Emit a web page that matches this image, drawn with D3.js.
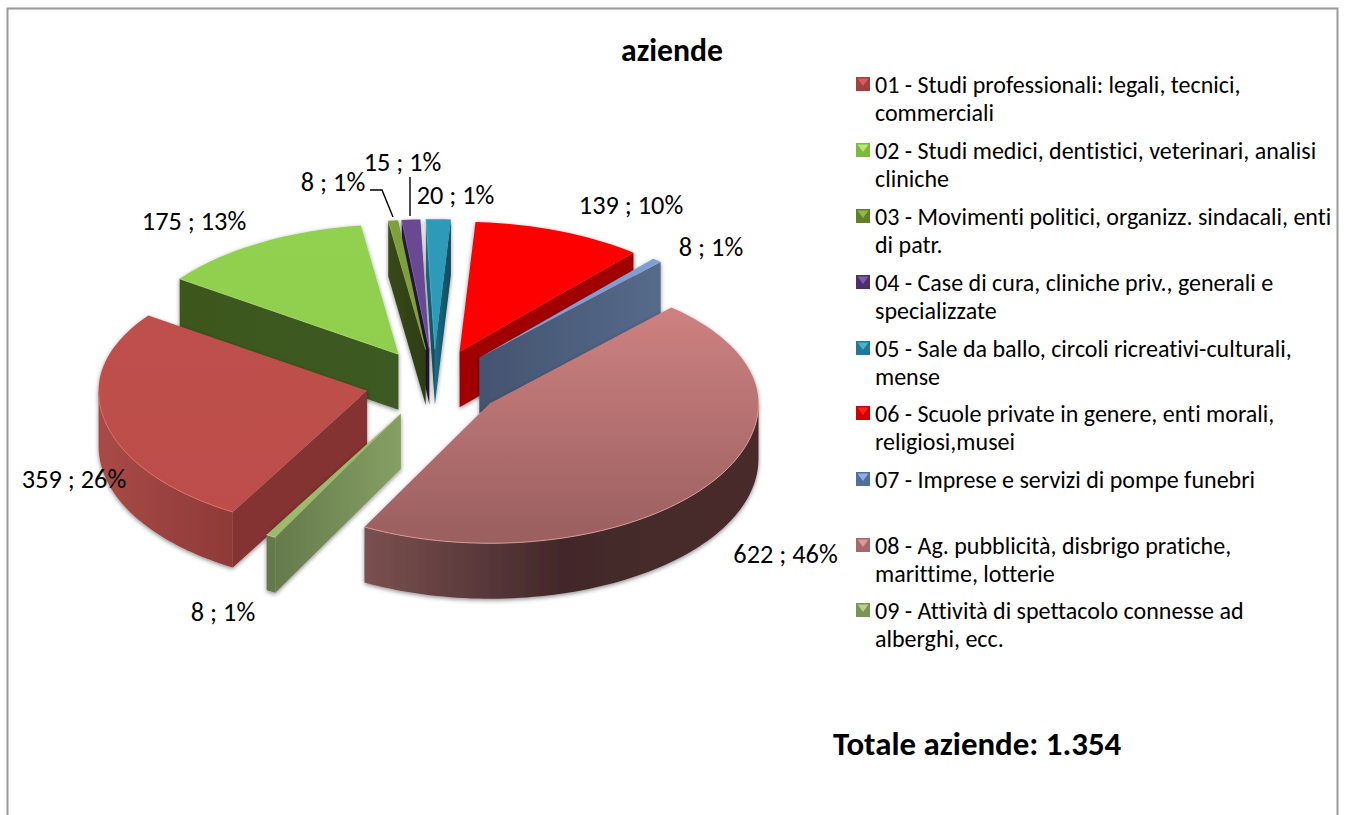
<!DOCTYPE html>
<html><head><meta charset="utf-8">
<script src="https://cdn.jsdelivr.net/npm/d3@7"></script>
<style>html,body{margin:0;padding:0;background:#fff;overflow:hidden}svg{display:block}text{font-family:Carlito,Lato,sans-serif;fill:#000;font-variant-ligatures:none}</style>
</head><body><svg id="c" width="1347" height="815"></svg>
<script>
const titleText = "aziende";
const totalText = "Totale aziende: 1.354";
const categories = [
  ["01 - Studi professionali: legali, tecnici,","commerciali"],
  ["02 - Studi medici, dentistici, veterinari, analisi","cliniche"],
  ["03 - Movimenti politici, organizz. sindacali, enti","di patr."],
  ["04 - Case di cura, cliniche priv., generali e","specializzate"],
  ["05 - Sale da ballo, circoli ricreativi-culturali,","mense"],
  ["06 - Scuole private in genere, enti morali,","religiosi,musei"],
  ["07 - Imprese e servizi di pompe funebri"],
  ["08 - Ag. pubblicità, disbrigo pratiche,","marittime, lotterie"],
  ["09 - Attività di spettacolo connesse ad","alberghi, ecc."]
];
const values = [359,175,8,15,20,139,8,622,8];
const percents = [26,13,1,1,1,10,1,46,1];
const topColors = ["#BE504D","#92D050","#7F9F3C","#6B4A93","#2E9AB9","#FF0000","#7F9FD2","#CE8181","#9BBB6B"];
const topEndColors = ["#BC4E4B","#90CE4E","#7F9F3C","#6B4A93","#2E9AB9","#FF0000","#7F9FD2","#9A5F5F","#9BBB6B"];
const sideColors = ["#843232","#3C571F","#37491A","#2A1D3F","#1C6C85","#A00000","#445470","#7A5050","#657A4C"];
const sideEndColors = ["#843232","#3E5A20","#2E3D16","#221733","#10485A","#A00000","#566A8A","#7A5050","#85A063"];
const arcColors = ["#A94A47","#3C571F","#37491A","#2A1D3F","#1C6C85","#A00000","#445470","#7B5050","#657A4C"];
const arcEndColors = ["#8E3A37","#3C571F","#37491A","#2A1D3F","#1C6C85","#A00000","#445470","#4A2C2C","#657A4C"];
const arcMidColors = ["#9A4240","#3C571F","#37491A","#2A1D3F","#1C6C85","#A00000","#445470","#42282A","#657A4C"];
const edgeColors = ["#E06C68","#A6DC6C","#93B050","#7D5CA6","#4AB0CC","#FF2020","#9AB4DE","#DC9896","#B4D088"];
const markerDark = ["#A33F3C","#7DB840","#5F8028","#4A3070","#1E7A96","#D00000","#4F6F9F","#A86868","#7A9458"];
const markerLight = ["#D0605C","#B8E878","#8FB848","#7D5CA6","#4AB0CC","#FF2020","#8FB0E0","#DC9896","#B8D088"];
const paintOrder = [4,3,2,1,5,6,0,8,7];
const labelCenters = [[74,479],[194,221],[333,182],[402.5,162],[455.5,195],[631,205],[711,247],[785.5,554],[223,612]];
const leaders = [[[370,190],[382,190],[393,217]],[[410,177],[410,216]]];
const legendBaselines = [91,157,223,289,355,420,486,552,617];
const legendLineGap = 28;

const svg = d3.select("#c");
const defs = svg.append("defs");
const shadow = defs.append("filter").attr("id","sh").attr("x","-20%").attr("y","-20%").attr("width","140%").attr("height","140%");
shadow.append("feDropShadow").attr("dx",0).attr("dy",1.5).attr("stdDeviation",2).attr("flood-color","#000").attr("flood-opacity",0.45);

function grad(id,stops,vertical){
  const g = defs.append("linearGradient").attr("id",id).attr("x1",0).attr("y1",0).attr("x2",vertical?0:1).attr("y2",vertical?1:0);
  stops.forEach((c,i)=>g.append("stop").attr("offset",i/(stops.length-1)).attr("stop-color",c));
}
values.forEach((v,i)=>{
  grad("top"+i,[topColors[i],topEndColors[i]],true);
  grad("side"+i,[sideColors[i],sideEndColors[i]],false);
  grad("arc"+i,[arcColors[i],arcMidColors[i],arcEndColors[i]],false);
});

// frame
svg.append("path").attr("d","M7.5,816V8.5H1337.5V816").attr("fill","none").attr("stroke","#9a9a9a").attr("stroke-width",2);

// pie geometry
const deg = Math.PI/180;
const cx=434, cy=383.5, R=268.5, RyFront=140, RyBack=130, explode=68.5, depth=55.5;
const arcs = d3.pie().sort(null).startAngle(210*deg).endAngle(570*deg)(values);
function slicePts(a){
  const m=(a.startAngle+a.endAngle)/2;
  const ax=cx+explode*Math.sin(m), ay=cy-explode*0.5*Math.cos(m);
  const pt=t=>{const c=Math.cos(t);return [ax+R*Math.sin(t), ay-(c>0?RyBack:RyFront)*c];};
  const n=Math.max(2,Math.ceil((a.endAngle-a.startAngle)/deg/1.5));
  const ts=d3.range(n+1).map(k=>a.startAngle+(a.endAngle-a.startAngle)*k/n);
  return {apex:[ax,ay],arc:ts.map(pt)};
}
const line=d3.line();
const quad=(p,q)=>line([p,q,[q[0],q[1]+depth],[p[0],p[1]+depth]])+"Z";

paintOrder.forEach(i=>{
  const s=slicePts(arcs[i]);
  const g=svg.append("g").attr("filter","url(#sh)");
  const first=s.arc[0], last=s.arc[s.arc.length-1];
  if(first[0]<s.apex[0]) g.append("path").attr("d",quad(s.apex,first)).attr("fill",`url(#side${i})`);
  if(last[0]>s.apex[0]) g.append("path").attr("d",quad(last,s.apex)).attr("fill",`url(#side${i})`);
  const run=s.arc.filter((p,k)=>{
    const nxt=s.arc[k+1], prv=s.arc[k-1];
    return (nxt&&nxt[0]<p[0])||(prv&&p[0]<prv[0]);
  });
  if(run.length>1){
    const lower=run.map(p=>[p[0],p[1]+depth]).reverse();
    g.append("path").attr("d",line(run.concat(lower))+"Z").attr("fill",`url(#arc${i})`);
  }
  g.append("path").attr("d",line([s.apex,...s.arc])+"Z").attr("fill",`url(#top${i})`);
  if(run.length>1) g.append("path").attr("d",line(run)).attr("fill","none").attr("stroke",edgeColors[i]).attr("stroke-width",1);
  else if(first[0]<s.apex[0]) g.append("path").attr("d",line([s.apex,first])).attr("fill","none").attr("stroke",edgeColors[i]).attr("stroke-width",0.8);
});

// leader lines
leaders.forEach(l=>svg.append("path").attr("d",line(l)).attr("fill","none").attr("stroke","#000").attr("stroke-width",1.4));

// data labels
const labelSize=26.3, legendSize=24;
values.forEach((v,i)=>svg.append("text").attr("x",labelCenters[i][0]).attr("y",labelCenters[i][1]+9)
  .attr("text-anchor","middle").attr("font-size",labelSize).text(`${v} ; ${percents[i]}%`));

// title & total
svg.append("text").attr("x",672).attr("y",60.5).attr("text-anchor","middle").attr("font-size",31.7).attr("font-weight",700).text(titleText);
svg.append("text").attr("x",833).attr("y",754.5).attr("font-size",32.9).attr("font-weight",700).text(totalText);

// legend
categories.forEach((lines,i)=>{
  const b=legendBaselines[i];
  const g=svg.append("g");
  const x=856,w=14,h=14,y=b-h;
  g.append("rect").attr("x",x).attr("y",y).attr("width",w).attr("height",h).attr("fill",markerDark[i]);
  g.append("path").attr("d",line([[x+1.5,y+1.5],[x+w-1.5,y+1.5],[x+w/2,y+h/2+2]])+"Z").attr("fill",markerLight[i]);
  lines.forEach((t,k)=>g.append("text").attr("x",875).attr("y",b+1.5+k*legendLineGap).attr("font-size",legendSize).text(t));
});
</script></body></html>
